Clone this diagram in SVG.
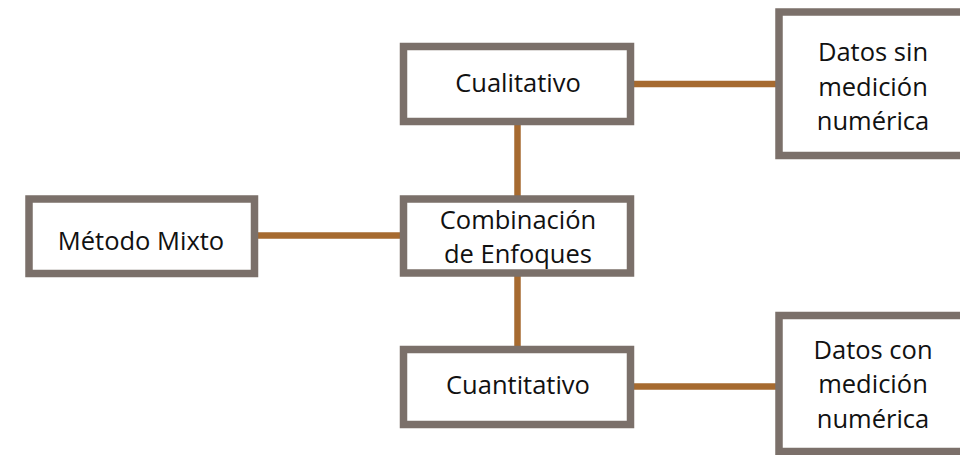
<svg xmlns="http://www.w3.org/2000/svg" width="960" height="455" viewBox="0 0 960 455">
<style>
.box{fill:#ffffff;stroke:#7b706a;stroke-width:7.5}
.con{stroke:#a66a30;stroke-width:6.5;fill:none}
text{font-family:"Open Sans","Noto Sans",sans-serif;font-size:25.5px;fill:#111111;text-anchor:middle}
</style>
<rect width="960" height="455" fill="#ffffff"/>
<g id="connectors">
<line class="con" x1="633" y1="84" x2="776" y2="84"/>
<line class="con" x1="517.5" y1="124" x2="517.5" y2="196"/>
<line class="con" x1="257" y1="235.5" x2="401" y2="235.5"/>
<line class="con" x1="517.5" y1="276" x2="517.5" y2="347"/>
<line class="con" x1="633" y1="386.5" x2="776" y2="386.5"/>
</g>
<g id="cualitativo">
<rect class="box" x="403.5" y="46.5" width="227" height="75"/>
<text x="518" y="92">Cualitativo</text>
</g>
<g id="datos-sin">
<rect class="box" x="779" y="12" width="190" height="143.5"/>
<text x="873" y="61">Datos sin</text>
<text x="873" y="96">medición</text>
<text x="873" y="130">numérica</text>
</g>
<g id="metodo-mixto">
<rect class="box" x="29" y="199" width="225.5" height="74.5"/>
<text x="141" y="250">Método Mixto</text>
</g>
<g id="combinacion">
<rect class="box" x="403.5" y="199" width="227" height="74"/>
<text x="518" y="229">Combinación</text>
<text x="518" y="263">de Enfoques</text>
</g>
<g id="cuantitativo">
<rect class="box" x="403.5" y="349.5" width="227" height="75"/>
<text x="518" y="394">Cuantitativo</text>
</g>
<g id="datos-con">
<rect class="box" x="779" y="315.5" width="190" height="136"/>
<text x="873" y="359">Datos con</text>
<text x="873" y="393">medición</text>
<text x="873" y="428">numérica</text>
</g>
</svg>
